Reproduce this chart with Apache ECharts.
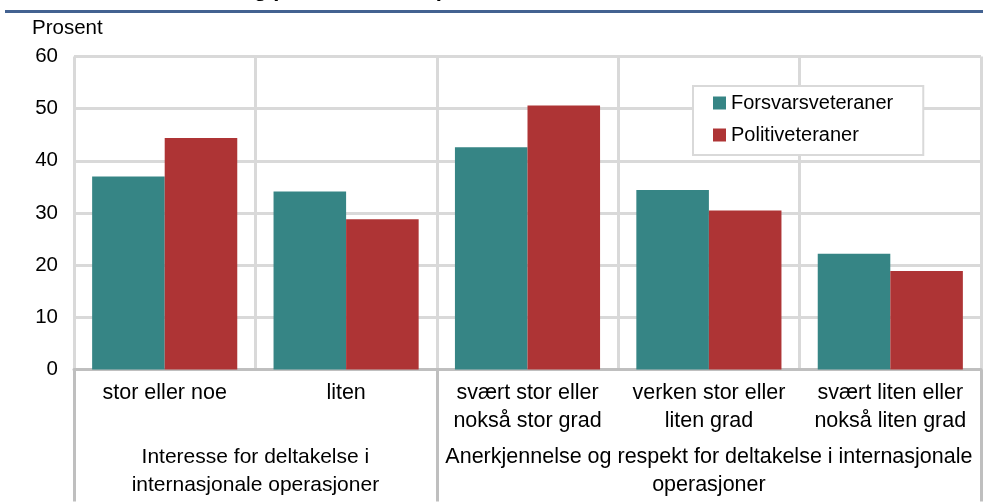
<!DOCTYPE html>
<html>
<head>
<meta charset="utf-8">
<script src="https://cdn.jsdelivr.net/npm/echarts@6/dist/echarts.min.js"></script>
<style>
  html, body { margin: 0; padding: 0; background: #fff; }
  #chart { width: 983px; height: 502px; }
</style>
</head>
<body>
<div id="chart"></div>
<script>
// kategorier og verdier (prosent)
var categories = ['stor eller noe', 'liten', 'svært stor eller\nnokså stor grad', 'verken stor eller\nliten grad', 'svært liten eller\nnokså liten grad'];
var groups = ['Interesse for deltakelse i\ninternasjonale operasjoner', 'Anerkjennelse og respekt for deltakelse i internasjonale\noperasjoner'];
var forsvar = [37.0, 34.1, 42.6, 34.4, 22.2];
var politi = [44.4, 28.8, 50.6, 30.5, 18.9];
var yTicks = [0, 10, 20, 30, 40, 50, 60];

var font = 'Liberation Sans, Arial, sans-serif';
var myChart = echarts.init(document.getElementById('chart'));

var option = {
  animation: false,
  textStyle: { fontFamily: font },
  grid: { left: 74, right: 2, top: 56.5, bottom: 132.5 },
  legend: {
    orient: 'vertical',
    left: 693, top: 86,
    padding: [7, 30, 10, 20],
    itemGap: 12,
    itemWidth: 13, itemHeight: 13,
    icon: 'rect',
    borderColor: '#d9d9d9', borderWidth: 2,
    backgroundColor: '#fff',
    textStyle: { fontSize: 20, color: '#000', fontFamily: font }
  },
  xAxis: {
    type: 'category',
    data: categories,
    axisLine: { lineStyle: { color: '#bfbfbf', width: 3 } },
    axisTick: {
      show: true, length: 132,
      interval: function (i) { return i === 0 || i === 2; },
      lineStyle: { color: '#bfbfbf', width: 3 }
    },
    axisLabel: { interval: 0, margin: 10, fontSize: 21.5, lineHeight: 28, color: '#000', fontFamily: font },
    splitLine: { show: true, interval: 0, lineStyle: { color: '#d9d9d9', width: 3 } }
  },
  yAxis: {
    type: 'value',
    min: yTicks[0], max: yTicks[yTicks.length - 1], interval: 10,
    axisLine: { show: false },
    axisTick: { show: false },
    axisLabel: { margin: 16, fontSize: 20.5, color: '#000', fontFamily: font },
    splitLine: { lineStyle: { color: '#d9d9d9', width: 3 } }
  },
  series: [
    { name: 'Forsvarsveteraner', type: 'bar', data: forsvar, barGap: 0, barCategoryGap: '20%', itemStyle: { color: '#368585' } },
    { name: 'Politiveteraner', type: 'bar', data: politi, barGap: 0, barCategoryGap: '20%', itemStyle: { color: '#ae3435' } }
  ]
};
myChart.setOption(option);

// gruppeetiketter under aksen
var c0 = myChart.convertToPixel({ xAxisIndex: 0 }, 0);
var c1 = myChart.convertToPixel({ xAxisIndex: 0 }, 1);
var c3 = myChart.convertToPixel({ xAxisIndex: 0 }, 3);

myChart.setOption({
  graphic: [
    { type: 'rect', shape: { x: 5, y: 10, width: 978, height: 3 }, style: { fill: '#436291' } },
    { type: 'text', x: 140, y: 1, style: { text: 'forsvars- og politiveteraner, prosent', font: 'bold 22px ' + font, fill: '#000', textVerticalAlign: 'bottom' } },
    { type: 'text', x: 32, y: 28, style: { text: 'Prosent', font: '20.5px ' + font, fill: '#000', textVerticalAlign: 'middle' } },
    { type: 'text', x: (c0 + c1) / 2, y: 443, style: { text: groups[0], font: '21px ' + font, lineHeight: 28, fill: '#000', textAlign: 'center', textVerticalAlign: 'top' } },
    { type: 'text', x: c3, y: 443, style: { text: groups[1], font: '21.5px ' + font, lineHeight: 28, fill: '#000', textAlign: 'center', textVerticalAlign: 'top' } }
  ]
});

window.addEventListener('resize', function () {
  myChart.resize();
});
</script>
</body>
</html>
